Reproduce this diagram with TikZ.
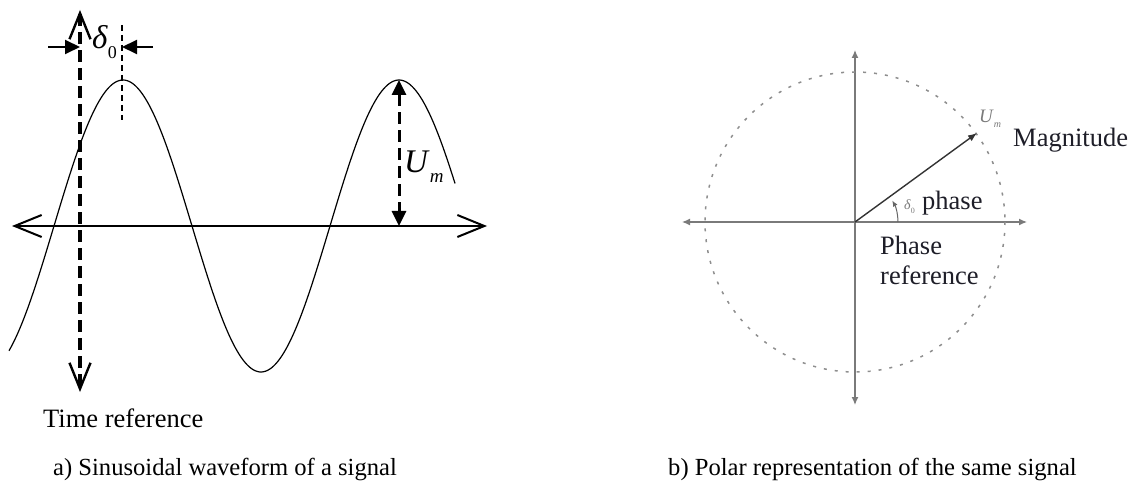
\documentclass[tikz,border=0pt]{standalone}
\usepackage{fontspec}
\setmainfont{Liberation Serif}
\usetikzlibrary{arrows.meta}
\definecolor{axgray}{HTML}{7A7A7A}
\definecolor{txt}{HTML}{1E1E28}
\begin{document}
\begin{tikzpicture}[x=1pt,y=-1pt,
  thickdash/.style={line width=3pt,dash pattern=on 12pt off 6pt},
  polaxis/.style={axgray,line width=1.3pt,{Latex[length=8pt,width=7pt]}-{Latex[length=8pt,width=7pt]}},
  captxt/.style={font=\fontsize{24.6}{27}\selectfont,anchor=base west,inner sep=0pt},
  rtxt/.style={font=\fontsize{26.5}{30}\selectfont,anchor=base west,inner sep=0pt,text=txt}]
\useasboundingbox (0,0) rectangle (1138,486);
% ---------- left: waveform ----------
\coordinate (axL) at (12,226);
\coordinate (axR) at (487,226);
\coordinate (trTop) at (80,10);
\coordinate (trBot) at (80,392);
\coordinate (peak) at (399,80);
\coordinate (peakAx) at (399,226);
\coordinate (dA) at (48,47);
\coordinate (dB) at (80,47);
\coordinate (dC) at (153,47);
\coordinate (dD) at (122,47);
\coordinate (pkTop) at (122,25);
\coordinate (pkBot) at (122,120);
% sine
\draw[line width=1.2pt] plot[domain=9:455,samples=220,smooth] (\x,{226-146*cos((\x-123)/276*360)});
% horizontal axis (double open arrow)
\draw[line width=2pt,{Straight Barb[length=27pt,width=22pt,line width=2pt]}-{Straight Barb[length=27pt,width=22pt,line width=2pt]}] (axL) -- (axR);
% time reference
\draw[thickdash,line width=3.3pt,{Straight Barb[length=26pt,width=21pt,line width=2.4pt]}-{Straight Barb[length=26pt,width=21pt,line width=2.4pt]}] (trTop) -- (trBot);
% delta arrows
\draw[line width=2pt,-{Triangle[length=15pt,width=14pt]}] (dA) -- (dB);
\draw[line width=2pt,-{Triangle[length=15pt,width=14pt]}] (dC) -- (dD);
\draw[line width=1.3pt,dash pattern=on 6pt off 4pt] (pkTop) -- (pkBot);
\node[anchor=base west,inner sep=0pt] (dl) at (92,49) {\fontsize{33}{33}\selectfont\textit{δ}\raisebox{-0.28em}{\fontsize{18}{18}\selectfont 0}};
% U_m arrow
\draw[thickdash,{Triangle[length=15pt,width=14pt]}-{Triangle[length=15pt,width=14pt]}] (peak) -- (peakAx);
\node[anchor=base west,inner sep=0pt] (um) at (404,173) {\fontsize{33}{33}\selectfont\textit{U}\raisebox{-0.3em}{\fontsize{19}{19}\selectfont\textit{m}}};
\node[anchor=base west,inner sep=0pt,font=\fontsize{26.5}{28}\selectfont] (tref) at (43,427) {Time reference};
\node[captxt] (capa) at (53,475) {a) Sinusoidal waveform of a signal};
% ---------- right: polar ----------
\coordinate (O) at (855,222);
\coordinate (pL) at (682,222);
\coordinate (pR) at (1027,222);
\coordinate (pT) at (855,50);
\coordinate (pB) at (855,405);
\coordinate (vtip) at (977,133);
\draw[polaxis] (pL) -- (pR);
\draw[polaxis] (pT) -- (pB);
\draw[axgray!85,line width=1.5pt,dash pattern=on 3pt off 8pt] (O) circle[radius=150];
\draw[black!80,line width=1.4pt,-{Latex[length=9pt,width=7pt]}] (O) -- (vtip);
\draw[black!60,line width=1pt,-{Latex[length=6pt,width=5pt]}] ([xshift=43pt]O) arc[start angle=0,end angle=-30,radius=43];
\node[anchor=base west,inner sep=0pt,text=axgray,font=\fontsize{14}{14}\selectfont] (dsm) at (904,210) {\textit{δ}\raisebox{-0.25em}{\fontsize{8}{8}\selectfont 0}};
\node[anchor=base west,inner sep=0pt,text=axgray,font=\fontsize{19}{19}\selectfont] (usm) at (979,123) {\textit{U}\raisebox{-0.25em}{\fontsize{10}{10}\selectfont\textit{m}}};
\node[rtxt] (ph) at (922,210) {phase};
\node[rtxt] (phr1) at (880,255) {Phase};
\node[rtxt] (phr2) at (880,285) {reference};
\node[rtxt] (mag) at (1013,147) {Magnitude};
\node[captxt] (capb) at (668,475) {b) Polar representation of the same signal};
\end{tikzpicture}
\end{document}
